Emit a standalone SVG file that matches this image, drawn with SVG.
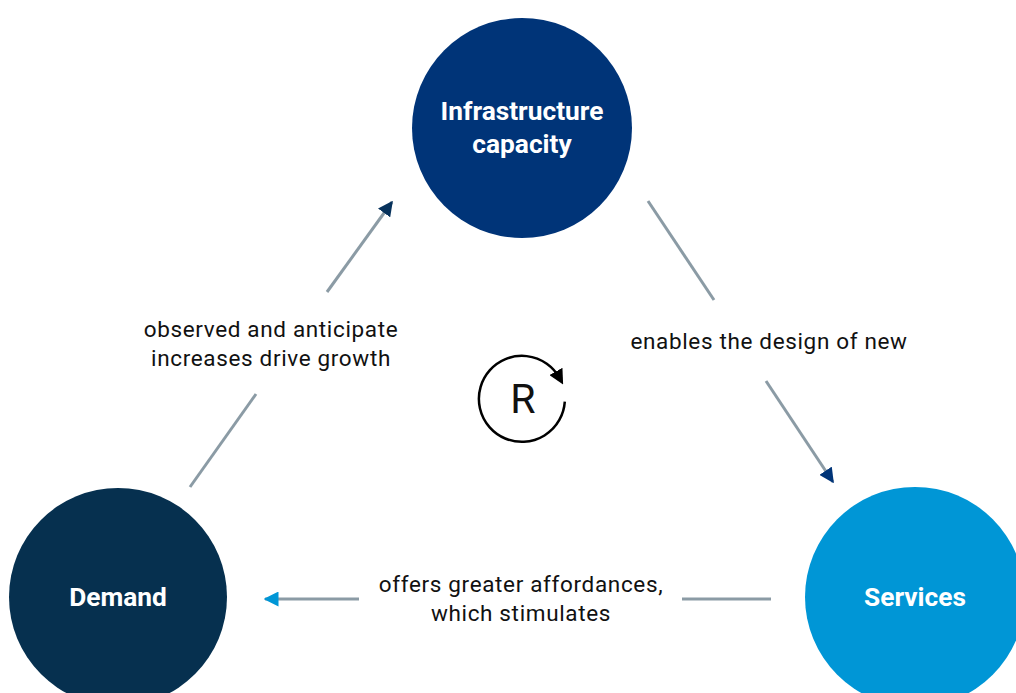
<svg xmlns="http://www.w3.org/2000/svg" width="1016" height="693" viewBox="0 0 1016 693">
<style>
.node-label{font-family:Roboto,"Liberation Sans",sans-serif;font-weight:bold;font-size:26.3px;fill:#fff;text-anchor:middle}
.edge-label{font-family:Roboto,"Liberation Sans",sans-serif;font-size:22.5px;letter-spacing:0.65px;fill:#111;text-anchor:middle}
.conn{stroke:#8b9ba5;stroke-width:3;fill:none}
</style>
<defs>
<marker id="ah-navy" viewBox="0 0 10 10" refX="9" refY="5" markerWidth="5" markerHeight="5" markerUnits="strokeWidth" orient="auto"><path d="M0,0 L10,5 L0,10 z" fill="#07325c"/></marker>
<marker id="ah-blue" viewBox="0 0 10 10" refX="9" refY="5" markerWidth="5" markerHeight="5" markerUnits="strokeWidth" orient="auto"><path d="M0,0 L10,5 L0,10 z" fill="#003478"/></marker>
<marker id="ah-light" viewBox="0 0 10 10" refX="9" refY="5" markerWidth="5" markerHeight="5" markerUnits="strokeWidth" orient="auto"><path d="M0,0 L10,5 L0,10 z" fill="#0096d6"/></marker>
<marker id="ah-black" viewBox="0 0 10 10" refX="5" refY="5" markerWidth="6" markerHeight="6" markerUnits="strokeWidth" orient="auto"><path d="M0,0 L10,5 L0,10 z" fill="#000"/></marker>
</defs>
<rect width="1016" height="693" fill="#fff"/>
<g id="connectors">
<line class="conn" x1="190" y1="487" x2="256" y2="394"/>
<line class="conn" x1="327" y1="292" x2="392" y2="202" marker-end="url(#ah-navy)"/>
<line class="conn" x1="648" y1="201" x2="714" y2="300"/>
<line class="conn" x1="766" y1="381" x2="833" y2="482" marker-end="url(#ah-blue)"/>
<line class="conn" x1="771" y1="599" x2="682" y2="599"/>
<line class="conn" x1="359" y1="599" x2="265" y2="599" marker-end="url(#ah-light)"/>
<text class="edge-label" x="271" y="337">observed and anticipate</text>
<text class="edge-label" x="271" y="366">increases drive growth</text>
<text class="edge-label" x="769" y="349">enables the design of new</text>
<text class="edge-label" x="521" y="592">offers greater affordances,</text>
<text class="edge-label" x="521" y="621">which stimulates</text>
</g>
<g id="node-infrastructure">
<circle cx="522" cy="128" r="110" fill="#003478"/>
<text class="node-label" x="522" y="120">Infrastructure</text>
<text class="node-label" x="522" y="153">capacity</text>
</g>
<g id="node-demand">
<circle cx="118" cy="597" r="109" fill="#06304f"/>
<text class="node-label" x="118" y="606">Demand</text>
</g>
<g id="node-services">
<circle cx="915" cy="597" r="110" fill="#0096d6"/>
<text class="node-label" x="915" y="606">Services</text>
</g>
<g id="loop-r">
<path d="M564.8,401.7 A43,43 0 1 1 559.5,378" fill="none" stroke="#000" stroke-width="2.5" marker-end="url(#ah-black)"/>
<text x="523" y="413" font-family="Roboto,'Liberation Sans',sans-serif" font-size="41" text-anchor="middle" fill="#111">R</text>
</g>
</svg>
